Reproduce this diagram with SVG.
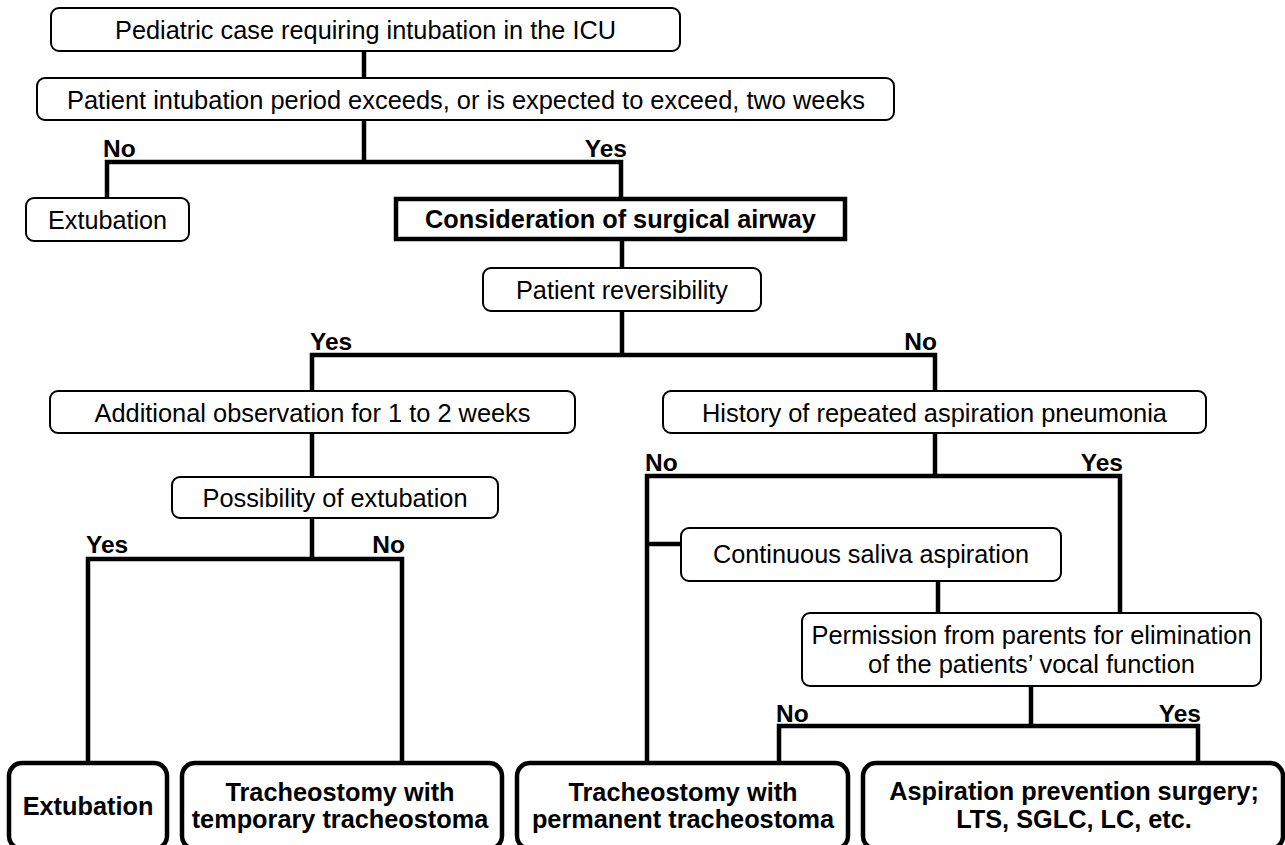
<svg xmlns="http://www.w3.org/2000/svg" width="1285" height="845" viewBox="0 0 1285 845">
<style>
  .thin { fill: #fff; stroke: #000; stroke-width: 2; }
  .bold { fill: #fff; stroke: #000; stroke-width: 4.5; }
  .t { font-family: "Liberation Sans", Arial, sans-serif; font-size: 26.5px; fill: #000; text-anchor: middle; }
  .tb { font-family: "Liberation Sans", Arial, sans-serif; font-size: 25.3px; font-weight: bold; fill: #000; text-anchor: middle; }
  .lbl { font-family: "Liberation Sans", Arial, sans-serif; font-size: 24.5px; font-weight: bold; fill: #000; }
  .c { fill: none; stroke: #000; stroke-width: 4.5; stroke-linejoin: miter; }
</style>
<rect width="1285" height="845" fill="#fff"/>
<g id="connectors">
  <path class="c" d="M364,51 V78"/>
  <path class="c" d="M364,120 V162"/>
  <path class="c" d="M107,198 V162 H621 V199"/>
  <path class="c" d="M622,239 V268"/>
  <path class="c" d="M622,311 V355"/>
  <path class="c" d="M312,391 V355 H935 V391"/>
  <path class="c" d="M312,433 V477"/>
  <path class="c" d="M312,518 V559"/>
  <path class="c" d="M88,763 V559 H402 V763"/>
  <path class="c" d="M935,433 V476"/>
  <path class="c" d="M647,763 V476 H1120 V613"/>
  <path class="c" d="M647,544 H681"/>
  <path class="c" d="M938,581 V613"/>
  <path class="c" d="M1031,686 V726"/>
  <path class="c" d="M779,763 V726 H1198 V763"/>
</g>
<g id="labels">
  <text class="lbl" x="103" y="157">No</text>
  <text class="lbl" x="627" y="157" text-anchor="end">Yes</text>
  <text class="lbl" x="310" y="350">Yes</text>
  <text class="lbl" x="937" y="350" text-anchor="end">No</text>
  <text class="lbl" x="86" y="553">Yes</text>
  <text class="lbl" x="405" y="553" text-anchor="end">No</text>
  <text class="lbl" x="645" y="471">No</text>
  <text class="lbl" x="1123" y="471" text-anchor="end">Yes</text>
  <text class="lbl" x="776" y="722">No</text>
  <text class="lbl" x="1201" y="722" text-anchor="end">Yes</text>
</g>
<g id="n1">
  <rect class="thin" x="51" y="8" width="629" height="43" rx="8"/>
  <text class="t" x="365.5" y="39" textLength="501" lengthAdjust="spacingAndGlyphs">Pediatric case requiring intubation in the ICU</text>
</g>
<g id="n2">
  <rect class="thin" x="37" y="78" width="857" height="42" rx="8"/>
  <text class="t" x="466" y="108.5" textLength="798" lengthAdjust="spacingAndGlyphs">Patient intubation period exceeds, or is expected to exceed, two weeks</text>
</g>
<g id="n3">
  <rect class="thin" x="26" y="198" width="163" height="43" rx="8"/>
  <text class="t" x="107.5" y="229" textLength="119" lengthAdjust="spacingAndGlyphs">Extubation</text>
</g>
<g id="n4">
  <rect class="bold" x="396" y="199" width="449" height="40"/>
  <text class="tb" x="620.5" y="228">Consideration of surgical airway</text>
</g>
<g id="n5">
  <rect class="thin" x="483" y="268" width="278" height="43" rx="8"/>
  <text class="t" x="622" y="299" textLength="212" lengthAdjust="spacingAndGlyphs">Patient reversibility</text>
</g>
<g id="n6">
  <rect class="thin" x="50" y="391" width="525" height="42" rx="8"/>
  <text class="t" x="312.5" y="421.5" textLength="436" lengthAdjust="spacingAndGlyphs">Additional observation for 1 to 2 weeks</text>
</g>
<g id="n7">
  <rect class="thin" x="172" y="477" width="326" height="41" rx="8"/>
  <text class="t" x="335" y="507" textLength="265" lengthAdjust="spacingAndGlyphs">Possibility of extubation</text>
</g>
<g id="n8">
  <rect class="thin" x="663" y="391" width="543" height="42" rx="8"/>
  <text class="t" x="934.5" y="421.5" textLength="465" lengthAdjust="spacingAndGlyphs">History of repeated aspiration pneumonia</text>
</g>
<g id="n9">
  <rect class="thin" x="681" y="528" width="380" height="53" rx="8"/>
  <text class="t" x="871" y="563" textLength="316" lengthAdjust="spacingAndGlyphs">Continuous saliva aspiration</text>
</g>
<g id="n10">
  <rect class="thin" x="802" y="613" width="459" height="73" rx="8"/>
  <text class="t" x="1031.5" y="644" textLength="440" lengthAdjust="spacingAndGlyphs">Permission from parents for elimination</text>
  <text class="t" x="1031.5" y="673" textLength="327" lengthAdjust="spacingAndGlyphs">of the patients’ vocal function</text>
</g>
<g id="n11">
  <rect class="bold" x="9" y="763" width="158" height="86" rx="13"/>
  <text class="tb" x="88" y="815">Extubation</text>
</g>
<g id="n12">
  <rect class="bold" x="182" y="763" width="320" height="86" rx="13"/>
  <text class="tb" x="340" y="801">Tracheostomy with</text>
  <text class="tb" x="340" y="828">temporary tracheostoma</text>
</g>
<g id="n13">
  <rect class="bold" x="517" y="763" width="331" height="86" rx="13"/>
  <text class="tb" x="683" y="801">Tracheostomy with</text>
  <text class="tb" x="683" y="828">permanent tracheostoma</text>
</g>
<g id="n14">
  <rect class="bold" x="863" y="763" width="420" height="86" rx="13"/>
  <text class="tb" x="1074" y="800">Aspiration prevention surgery;</text>
  <text class="tb" x="1074" y="828">LTS, SGLC, LC, etc.</text>
</g>
</svg>
